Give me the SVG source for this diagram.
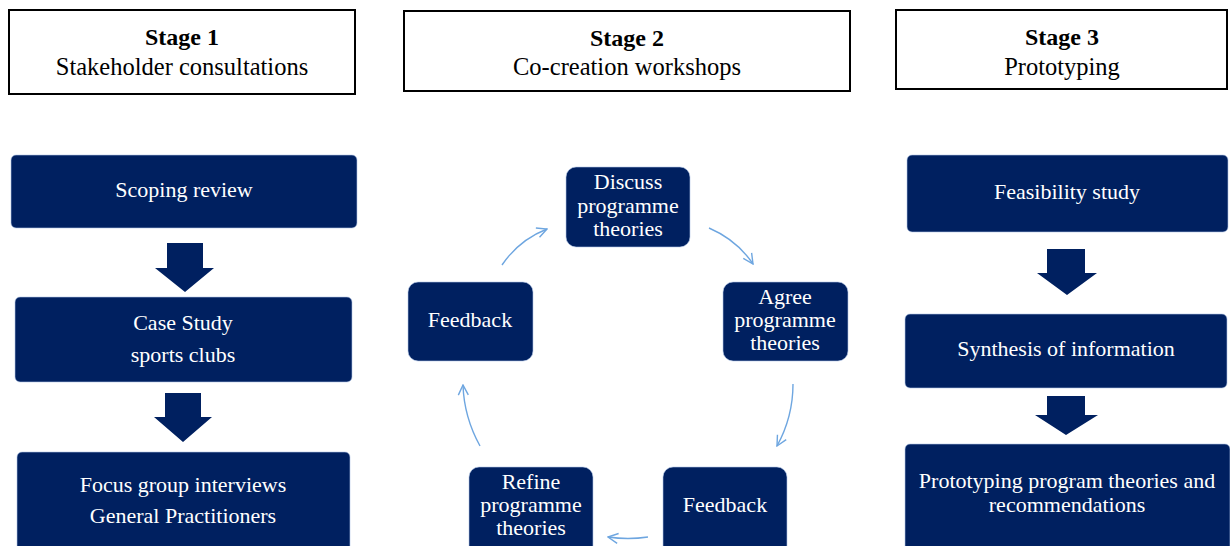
<svg xmlns="http://www.w3.org/2000/svg" width="1230" height="546" viewBox="0 0 1230 546">
<style>
.stage{fill:#fff;stroke:#000;stroke-width:2}
.box{fill:#002060;stroke:#b4c7e7;stroke-width:0.6}
.blk{fill:#002060}
.h1{font-family:"Liberation Serif",serif;font-size:24px;font-weight:bold;fill:#000;text-anchor:middle}
.h2{font-family:"Liberation Serif",serif;font-size:24.5px;fill:#000;text-anchor:middle}
.t{font-family:"Liberation Serif",serif;font-size:22px;fill:#fff;text-anchor:middle}
.cyc{fill:none;stroke:#6ea6e0;stroke-width:1.4}
</style>
<defs>
<marker id="ah" viewBox="0 0 12 12" refX="11" refY="6" markerWidth="12" markerHeight="12" markerUnits="userSpaceOnUse" orient="auto">
<path d="M1,1 L11,6 L1,11" fill="none" stroke="#6ea6e0" stroke-width="1.4"/>
</marker>
</defs>
<rect width="1230" height="546" fill="#fff"/>
<g id="stage1">
<rect class="stage" x="9" y="10" width="346" height="84"/>
<text class="h1" x="182" y="45">Stage 1</text>
<text class="h2" x="182" y="75">Stakeholder consultations</text>
</g>
<g id="stage2">
<rect class="stage" x="404" y="11" width="446" height="80"/>
<text class="h1" x="627" y="46">Stage 2</text>
<text class="h2" x="627" y="75">Co-creation workshops</text>
</g>
<g id="stage3">
<rect class="stage" x="896" y="10" width="331" height="79"/>
<text class="h1" x="1062" y="45">Stage 3</text>
<text class="h2" x="1062" y="75">Prototyping</text>
</g>
<g id="scoping">
<rect class="box" x="11" y="155" width="346" height="73" rx="5"/>
<text class="t" x="184" y="197">Scoping review</text>
</g>
<g id="casestudy">
<rect class="box" x="15" y="297" width="337" height="85" rx="5"/>
<text class="t" x="183" y="330">Case Study</text>
<text class="t" x="183" y="362">sports clubs</text>
</g>
<g id="focus">
<rect class="box" x="17" y="452" width="333" height="100" rx="5"/>
<text class="t" x="183" y="492">Focus group interviews</text>
<text class="t" x="183" y="523">General Practitioners</text>
</g>
<g id="feasibility">
<rect class="box" x="907" y="155" width="321" height="77" rx="5"/>
<text class="t" x="1067" y="199">Feasibility study</text>
</g>
<g id="synthesis">
<rect class="box" x="905" y="314" width="322" height="74" rx="5"/>
<text class="t" x="1066" y="356">Synthesis of information</text>
</g>
<g id="prototyping">
<rect class="box" x="905" y="444" width="325" height="108" rx="5"/>
<text class="t" x="1067" y="488">Prototyping program theories and</text>
<text class="t" x="1067" y="512">recommendations</text>
</g>
<g id="discuss">
<rect class="box" x="566" y="167" width="124" height="80" rx="10"/>
<text class="t" x="628" y="189">Discuss</text>
<text class="t" x="628" y="213">programme</text>
<text class="t" x="628" y="236">theories</text>
</g>
<g id="agree">
<rect class="box" x="723" y="282" width="125" height="79" rx="10"/>
<text class="t" x="785" y="304">Agree</text>
<text class="t" x="785" y="327">programme</text>
<text class="t" x="785" y="350">theories</text>
</g>
<g id="feedback2">
<rect class="box" x="663" y="467" width="124" height="90" rx="10"/>
<text class="t" x="725" y="512">Feedback</text>
</g>
<g id="refine">
<rect class="box" x="469" y="467" width="124" height="90" rx="10"/>
<text class="t" x="531" y="489">Refine</text>
<text class="t" x="531" y="512">programme</text>
<text class="t" x="531" y="535">theories</text>
</g>
<g id="feedback1">
<rect class="box" x="408" y="282" width="125" height="79" rx="10"/>
<text class="t" x="470" y="327">Feedback</text>
</g>
<g id="connectors">
<polygon class="blk" points="167,243 203,243 203,268 214,268 185,292 155,268 167,268"/>
<polygon class="blk" points="165,393 201,393 201,417 212,417 183,442 154,417 165,417"/>
<polygon class="blk" points="1047,249 1085,249 1085,273 1097,273 1067,295 1037,273 1047,273"/>
<polygon class="blk" points="1047,396 1085,396 1085,415 1098,415 1066,435 1035,415 1047,415"/>
<path class="cyc" d="M502,265 Q519,240 547,229" marker-end="url(#ah)"/>
<path class="cyc" d="M709,228 Q737,240 753,264" marker-end="url(#ah)"/>
<path class="cyc" d="M793,384 Q793,417 777,446" marker-end="url(#ah)"/>
<path class="cyc" d="M648,537 Q628,540 608,537" marker-end="url(#ah)"/>
<path class="cyc" d="M480,446 Q464,417 463,385" marker-end="url(#ah)"/>
</g>
</svg>
